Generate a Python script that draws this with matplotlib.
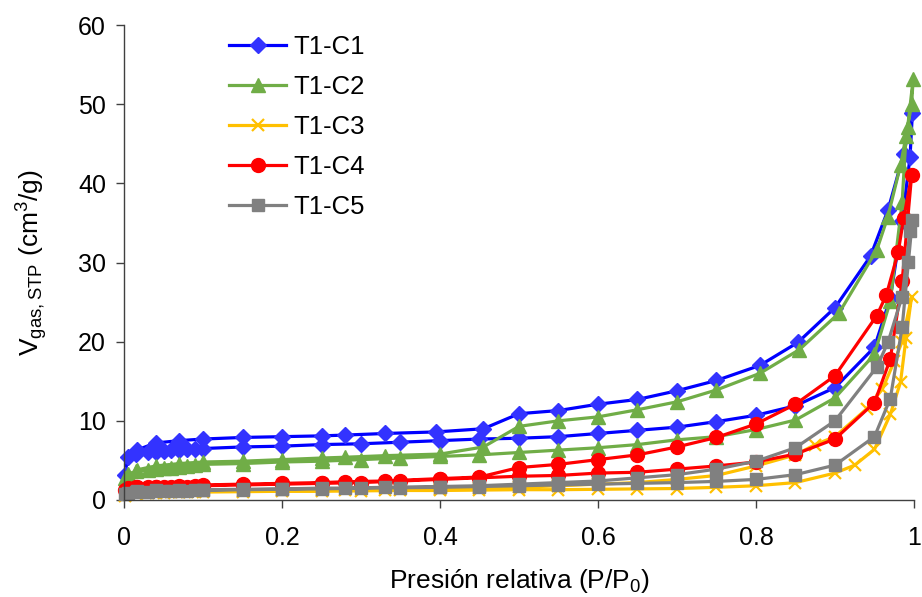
import matplotlib
matplotlib.use("Agg")
import matplotlib.pyplot as plt

plt.rcParams['font.family'] = ['Liberation Sans', 'DejaVu Sans']
plt.rcParams['mathtext.default'] = 'regular'

# Relative pressure P/P0 for each isotherm (adsorption branch then desorption branch)
p_c1 = [0.001, 0.005, 0.015, 0.03, 0.04, 0.05, 0.06, 0.07, 0.08, 0.09, 0.10, 0.15, 0.20, 0.25,
        0.30, 0.35, 0.40, 0.45, 0.50, 0.55, 0.60, 0.65, 0.70, 0.75, 0.80, 0.85, 0.90, 0.95, 0.97,
        0.985, 0.995, 0.998,
        0.987, 0.967, 0.945, 0.90, 0.853, 0.805, 0.75, 0.70, 0.65, 0.60, 0.55, 0.50, 0.455, 0.395,
        0.33, 0.28, 0.25, 0.20, 0.15, 0.10, 0.07, 0.04, 0.016]
v_c1 = [3.2, 5.4, 5.8, 6.0, 6.1, 6.2, 6.3, 6.3, 6.4, 6.4, 6.5, 6.7, 6.8, 7.0,
        7.1, 7.3, 7.5, 7.7, 7.8, 8.0, 8.4, 8.8, 9.2, 9.9, 10.7, 11.9, 14.2, 19.3, 25.5,
        35.2, 43.3, 48.9,
        43.7, 36.6, 30.8, 24.3, 19.9, 17.0, 15.1, 13.8, 12.7, 12.1, 11.3, 10.9, 9.0, 8.6,
        8.4, 8.2, 8.1, 8.0, 7.9, 7.7, 7.5, 7.2, 6.3]

p_c2 = [0.001, 0.005, 0.015, 0.03, 0.04, 0.05, 0.06, 0.07, 0.08, 0.09, 0.10, 0.15, 0.20, 0.25,
        0.30, 0.35, 0.40, 0.45, 0.50, 0.55, 0.60, 0.65, 0.70, 0.75, 0.80, 0.85, 0.90, 0.95, 0.97,
        0.985, 0.99, 0.997, 0.999,
        0.992, 0.983, 0.967, 0.953, 0.905, 0.855, 0.805, 0.75, 0.70, 0.65, 0.60, 0.55, 0.50, 0.455,
        0.40, 0.33, 0.28, 0.25, 0.20, 0.15, 0.10, 0.07, 0.04, 0.016]
v_c2 = [2.8, 3.3, 3.6, 3.8, 3.9, 4.0, 4.1, 4.2, 4.3, 4.4, 4.5, 4.6, 4.8, 4.9,
        5.1, 5.3, 5.5, 5.7, 6.0, 6.3, 6.6, 7.0, 7.6, 8.0, 8.9, 10.1, 12.9, 18.4, 25.1,
        37.6, 46.0, 50.0, 53.2,
        47.1, 42.3, 35.8, 31.6, 23.6, 19.0, 16.0, 13.9, 12.4, 11.4, 10.5, 10.0, 9.3, 6.7,
        5.8, 5.6, 5.4, 5.3, 5.1, 4.9, 4.8, 4.6, 4.3, 3.8]

p_c3 = [0.001, 0.005, 0.015, 0.03, 0.04, 0.05, 0.06, 0.07, 0.08, 0.09, 0.10, 0.15, 0.20, 0.25,
        0.30, 0.35, 0.40, 0.45, 0.50, 0.55, 0.60, 0.65, 0.70, 0.75, 0.80, 0.85, 0.90, 0.925, 0.95,
        0.97, 0.983, 0.99, 0.997,
        0.985, 0.975, 0.96, 0.94, 0.90, 0.875, 0.85, 0.80, 0.75, 0.70, 0.65, 0.60, 0.55, 0.50,
        0.45, 0.40, 0.33, 0.28, 0.25, 0.20, 0.15, 0.10, 0.07, 0.04, 0.016]
v_c3 = [0.5, 0.7, 0.8, 0.85, 0.9, 0.9, 0.95, 1.0, 1.0, 1.0, 1.0, 1.05, 1.1, 1.1,
        1.15, 1.2, 1.2, 1.25, 1.3, 1.3, 1.35, 1.4, 1.45, 1.6, 1.8, 2.2, 3.4, 4.4, 6.4,
        10.8, 14.9, 20.5, 25.7,
        20.0, 17.5, 14.0, 11.5, 8.0, 7.0, 5.7, 4.3, 3.1, 2.6, 2.2, 2.0, 1.8, 1.6,
        1.5, 1.4, 1.3, 1.25, 1.2, 1.2, 1.1, 1.1, 1.0, 1.0, 0.9]

p_c4 = [0.001, 0.005, 0.015, 0.03, 0.04, 0.05, 0.06, 0.07, 0.08, 0.09, 0.10, 0.15, 0.20, 0.25,
        0.30, 0.35, 0.40, 0.45, 0.50, 0.55, 0.60, 0.65, 0.70, 0.75, 0.80, 0.85, 0.90, 0.95, 0.97,
        0.985, 0.997,
        0.987, 0.98, 0.965, 0.953, 0.90, 0.85, 0.80, 0.75, 0.70, 0.65, 0.60, 0.55, 0.50, 0.45,
        0.40, 0.33, 0.28, 0.25, 0.20, 0.15, 0.10, 0.07, 0.04, 0.016]
v_c4 = [1.3, 1.5, 1.6, 1.6, 1.6, 1.7, 1.7, 1.7, 1.7, 1.75, 1.8, 1.9, 2.0, 2.1,
        2.2, 2.4, 2.6, 2.8, 3.0, 3.1, 3.4, 3.5, 3.9, 4.3, 4.8, 5.8, 7.7, 12.3, 17.8,
        27.6, 41.0,
        35.6, 31.3, 25.9, 23.3, 15.7, 12.1, 9.6, 7.9, 6.7, 5.7, 5.1, 4.5, 4.1, 2.9,
        2.7, 2.4, 2.3, 2.2, 2.1, 2.0, 1.9, 1.8, 1.7, 1.6]

p_c5 = [0.001, 0.005, 0.015, 0.03, 0.04, 0.05, 0.06, 0.07, 0.08, 0.09, 0.10, 0.15, 0.20, 0.25,
        0.30, 0.35, 0.40, 0.45, 0.50, 0.55, 0.60, 0.65, 0.70, 0.75, 0.80, 0.85, 0.90, 0.95, 0.97,
        0.985, 0.993, 0.998,
        0.995, 0.985, 0.967, 0.953, 0.90, 0.85, 0.80, 0.75, 0.70, 0.65, 0.60, 0.55, 0.50, 0.45,
        0.40, 0.33, 0.28, 0.25, 0.20, 0.15, 0.10, 0.07, 0.04, 0.016]
v_c5 = [0.8, 0.9, 1.0, 1.05, 1.1, 1.1, 1.1, 1.15, 1.15, 1.2, 1.2, 1.3, 1.35, 1.4,
        1.5, 1.55, 1.6, 1.7, 1.8, 1.9, 2.0, 2.1, 2.2, 2.35, 2.6, 3.2, 4.4, 8.0, 12.8,
        21.8, 30.1, 35.4,
        34.0, 25.7, 19.9, 16.8, 10.0, 6.6, 4.9, 3.9, 3.2, 2.8, 2.4, 2.2, 2.0, 1.8,
        1.7, 1.6, 1.5, 1.5, 1.4, 1.35, 1.3, 1.25, 1.2, 1.1]

labels = ['T1-C1', 'T1-C2', 'T1-C3', 'T1-C4', 'T1-C5']
x_ticks = [0, 0.2, 0.4, 0.6, 0.8, 1]
x_tick_labels = ['0', '0.2', '0.4', '0.6', '0.8', '1']
y_ticks = [0, 10, 20, 30, 40, 50, 60]

series = [
    (p_c1, v_c1, dict(color='#0000FF', marker='D', markersize=8, markerfacecolor='#3333FF',
                      markeredgecolor='#3333FF')),
    (p_c2, v_c2, dict(color='#70AD47', marker='^', markersize=10, markerfacecolor='#70AD47',
                      markeredgecolor='#70AD47')),
    (p_c3, v_c3, dict(color='#FFC000', marker='x', markersize=9, markeredgewidth=1.6,
                      markeredgecolor='#FFC000')),
    (p_c4, v_c4, dict(color='#FF0000', marker='o', markersize=10, markerfacecolor='#FF0000',
                      markeredgecolor='#FF0000')),
    (p_c5, v_c5, dict(color='#808080', marker='s', markersize=9, markerfacecolor='#808080',
                      markeredgecolor='#808080')),
]

fig = plt.figure(figsize=(9.22, 5.97), dpi=100)
ax = fig.add_axes([0.1345, 0.1625, 0.8568, 0.7956])

for (p, v, style), lab in zip(series, labels):
    ax.plot(p, v, linewidth=2.3, label=lab, clip_on=False, **style)

ax.set_xlim(0, 1)
ax.set_ylim(0, 60)
ax.set_xticks(x_ticks)
ax.set_xticklabels(x_tick_labels)
ax.set_yticks(y_ticks)

for side in ('top', 'right'):
    ax.spines[side].set_visible(False)
for side in ('left', 'bottom'):
    ax.spines[side].set_color('#404040')
    ax.spines[side].set_linewidth(1.0)

ax.tick_params(axis='both', direction='out', length=6, width=1.0, color='#404040',
               labelsize=18)
ax.tick_params(axis='x', pad=13)
ax.tick_params(axis='y', pad=7)

ax.set_xlabel('Presión relativa (P/P$_{0}$)', fontsize=19, labelpad=12)
ax.set_ylabel('V$_{gas,STP}$ (cm$^{3}$/g)', fontsize=19, labelpad=20)

leg = ax.legend(loc='upper left', bbox_to_anchor=(0.117, 1.005), frameon=False,
                fontsize=18.5, handlelength=2.2, handletextpad=0.3, labelspacing=0.62,
                borderpad=0.0)

fig.savefig('out.png', dpi=100)
